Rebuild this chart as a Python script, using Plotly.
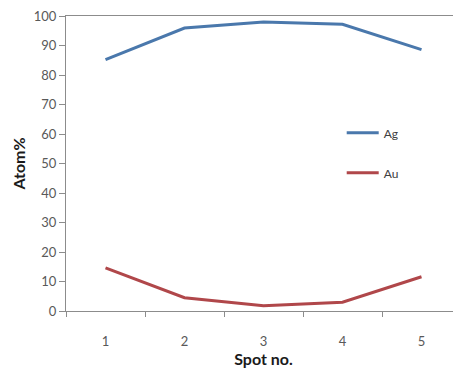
import plotly.graph_objects as go

spots = [1, 2, 3, 4, 5]
ag = [85.2, 95.9, 98.0, 97.2, 88.6]
au = [14.6, 4.5, 1.8, 3.0, 11.6]
y_ticks = [0, 10, 20, 30, 40, 50, 60, 70, 80, 90, 100]

fig = go.Figure()
fig.add_trace(go.Scatter(x=spots, y=ag, mode="lines", name="Ag",
                         line=dict(color="#4A78AC", width=3), legendgroup="ag"))
fig.add_trace(go.Scatter(x=spots, y=au, mode="lines", name="Au",
                         line=dict(color="#B0474A", width=3), legendgroup="au"))

font = "Lato, 'Liberation Sans', sans-serif"
fig.update_layout(
    width=453, height=363,
    margin=dict(l=58, r=0, t=8, b=60),
    paper_bgcolor="white", plot_bgcolor="white",
    font=dict(family=font, size=13, color="#595959"),
    showlegend=True,
    legend=dict(x=0.698, y=0.653, xanchor="left", yanchor="top",
                bgcolor="rgba(0,0,0,0)", font=dict(size=12, color="#404040"),
                tracegroupgap=21, itemwidth=32),
    xaxis=dict(range=[0.5, 5.5], tickvals=spots, ticktext=[str(s) for s in spots],
               ticks="", showgrid=False, zeroline=False,
               showline=True, linecolor="#8C8C8C", linewidth=1, mirror=True,
               minor=dict(tickvals=[0.5, 1.5, 2.5, 3.5, 4.5, 5.5], ticks="outside",
                          ticklen=5, tickcolor="#8C8C8C", showgrid=False),
               ticklabelstandoff=18,
               title=dict(text="<b>Spot no.</b>", font=dict(size=16, color="#1a1a1a"),
                          standoff=4)),
    yaxis=dict(range=[0, 100], tickvals=y_ticks, ticks="outside", ticklen=6,
               tickcolor="#8C8C8C", showgrid=False, zeroline=False,
               showline=True, linecolor="#8C8C8C", linewidth=1,
               ticklabeloverflow="allow", automargin=False,
               title=dict(text="<b>Atom%</b>", font=dict(size=16, color="#1a1a1a"),
                          standoff=4)),
)

fig.write_html("out.html")
